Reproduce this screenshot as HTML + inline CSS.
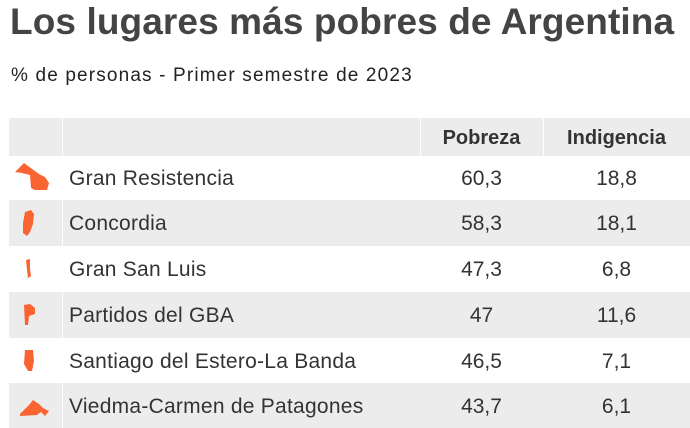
<!DOCTYPE html>
<html><head><meta charset="utf-8"><style>
body{margin:0;width:690px;height:428px;background:#fff;font-family:"Liberation Sans",sans-serif;color:#333;overflow:hidden;position:relative}
.t{position:absolute;left:10px;top:1px;font-size:37px;font-weight:bold;color:#444;letter-spacing:0.1px;white-space:nowrap}
.s{position:absolute;left:11px;top:65px;font-size:19px;color:#222;letter-spacing:1.15px;white-space:nowrap}
.r{position:absolute;left:9px;width:681px;}
.g{background:#ececec}
.c{position:absolute;top:2px;bottom:0;display:flex;align-items:center;font-size:20px;white-space:nowrap}
.n{left:60px;font-size:21px;letter-spacing:0.25px}
.v1{left:411px;width:123px;justify-content:center;font-size:21px}
.v2{left:534px;width:147px;justify-content:center;font-size:21px}
.sep{position:absolute;top:0;bottom:0;width:1px;background:#fff}
svg{position:absolute;left:6px;top:50%;transform:translateY(-50%)}
</style></head><body>
<div class="t">Los lugares más pobres de Argentina</div>
<div class="s">% de personas - Primer semestre de 2023</div>
<div class="r g" style="top:118px;height:38px"><div class="sep" style="left:53px"></div><div class="sep" style="left:411px"></div><div class="sep" style="left:534px"></div><div class="c v1" style="font-weight:bold;font-size:20px">Pobreza</div><div class="c v2" style="font-weight:bold;font-size:20px">Indigencia</div></div>
<div class="r" style="top:156px;height:44px"><svg width="36" height="30" viewBox="0 0 36 30"><path d="M0 9 L9 0 L24 11 L30 14 L34 20 L32 27 L20 27 L16 25 L15 12 L7 10 Z" fill="#fa6432"/></svg><div class="c n">Gran Resistencia</div><div class="c v1">60,3</div><div class="c v2">18,8</div></div>
<div class="r g" style="top:200px;height:46px"><div class="sep" style="left:53px"></div><svg width="36" height="30" viewBox="0 0 36 30"><path d="M10 4 L16 2 L19 6 L18 16 L15 24 L12 28 L8 25 L8 15 Z" fill="#fa6432"/></svg><div class="c n">Concordia</div><div class="c v1">58,3</div><div class="c v2">18,1</div></div>
<div class="r" style="top:246px;height:46px"><svg width="36" height="30" viewBox="0 0 36 30"><path d="M11 6 L15 5 L15 15 L16 22 L13 24 L12 16 Z" fill="#fa6432"/></svg><div class="c n">Gran San Luis</div><div class="c v1">47,3</div><div class="c v2">6,8</div></div>
<div class="r g" style="top:292px;height:46px"><div class="sep" style="left:53px"></div><svg width="36" height="30" viewBox="0 0 36 30"><path d="M9 5 L15 4 L20 8 L20 14 L14 16 L13 25 L10 25 Z" fill="#fa6432"/></svg><div class="c n">Partidos del GBA</div><div class="c v1">47</div><div class="c v2">11,6</div></div>
<div class="r" style="top:338px;height:45px"><svg width="36" height="30" viewBox="0 0 36 30"><path d="M10 4 L18 4 L19 15 L17 25 L13 25 L9 18 Z" fill="#fa6432"/></svg><div class="c n">Santiago del Estero-La Banda</div><div class="c v1">46,5</div><div class="c v2">7,1</div></div>
<div class="r g" style="top:383px;height:45px"><div class="sep" style="left:53px"></div><svg width="36" height="30" viewBox="0 0 36 30"><path d="M5 23 L14 14 L18 9 L24 13 L28 17 L34 20 L30 25 L26 21 L22 24 L5 25 Z" fill="#fa6432"/></svg><div class="c n">Viedma-Carmen de Patagones</div><div class="c v1">43,7</div><div class="c v2">6,1</div></div>
</body></html>
